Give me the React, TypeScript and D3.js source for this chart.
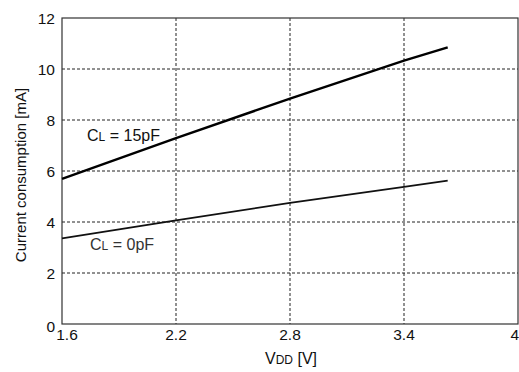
import React from "react";
import * as d3 from "d3";

// Supply voltage (V) sample points and measured current (mA) per load
const vdd = [1.6, 2.2, 2.8, 3.4, 3.63];
const current15pF = [5.69, 7.29, 8.84, 10.33, 10.85];
const current0pF = [3.36, 4.06, 4.75, 5.38, 5.62];

const xTicks = [1.6, 2.2, 2.8, 3.4, 4];
const yTicks = [0, 2, 4, 6, 8, 10, 12];

const W = 519;
const H = 372;
const margin = { left: 62, right: 1, top: 18, bottom: 48 };

export default function App() {
  const x = d3.scaleLinear().domain([1.6, 4]).range([margin.left, 518]);
  const y = d3.scaleLinear().domain([0, 12]).range([324, margin.top]);

  const line = d3
    .line<number>()
    .x((_, i) => x(vdd[i]))
    .y((d) => y(d));

  const font = "'Liberation Sans', Arial, Helvetica, sans-serif";

  return (
    <svg
      width={W}
      height={H}
      style={{ position: "absolute", left: 0, top: 0, background: "#fff" }}
      fontFamily={font}
    >
      {/* grid */}
      {xTicks.slice(1, -1).map((t) => (
        <line
          key={"gx" + t}
          x1={x(t)}
          x2={x(t)}
          y1={y(12)}
          y2={y(0)}
          stroke="#222"
          strokeWidth={1}
          strokeDasharray="3,2"
        />
      ))}
      {yTicks.slice(1, -1).map((t) => (
        <line
          key={"gy" + t}
          x1={x(1.6)}
          x2={x(4)}
          y1={y(t)}
          y2={y(t)}
          stroke="#222"
          strokeWidth={1}
          strokeDasharray="3,2"
        />
      ))}

      {/* frame */}
      <rect
        x={x(1.6)}
        y={y(12)}
        width={x(4) - x(1.6)}
        height={y(0) - y(12)}
        fill="none"
        stroke="#333"
        strokeWidth={1.2}
      />

      {/* series */}
      <path d={line(current15pF) ?? ""} fill="none" stroke="#000" strokeWidth={2.4} />
      <path d={line(current0pF) ?? ""} fill="none" stroke="#111" strokeWidth={1.8} />

      {/* tick labels */}
      {yTicks.map((t) => (
        <text
          key={"ty" + t}
          x={t === 0 ? 55 : 55}
          y={y(t) + (t === 0 ? 2 : 0)}
          textAnchor="end"
          dominantBaseline="central"
          fontSize={15.5}
          fill="#111"
        >
          {t}
        </text>
      ))}
      {xTicks.map((t) => (
        <text
          key={"tx" + t}
          x={t === 4 ? W : x(t) + (t === 1.6 ? 5 : 0)}
          y={340}
          textAnchor={t === 4 ? "end" : "middle"}
          fontSize={15.5}
          fill="#111"
        >
          {t}
        </text>
      ))}

      {/* axis titles */}
      <text x={291} y={364} textAnchor="middle" fontSize={16} fill="#111">
        V<tspan fontSize={12}>DD</tspan> [V]
      </text>
      <text
        transform="translate(26,175) rotate(-90)"
        textAnchor="middle"
        fontSize={15}
        fill="#111"
      >
        Current consumption [mA]
      </text>

      {/* series labels */}
      <text x={87} y={141} fontSize={16} fill="#111">
        C<tspan fontSize={12}>L</tspan> = 15pF
      </text>
      <text x={90} y={250} fontSize={16} fill="#333">
        C<tspan fontSize={12}>L</tspan> = 0pF
      </text>
    </svg>
  );
}
